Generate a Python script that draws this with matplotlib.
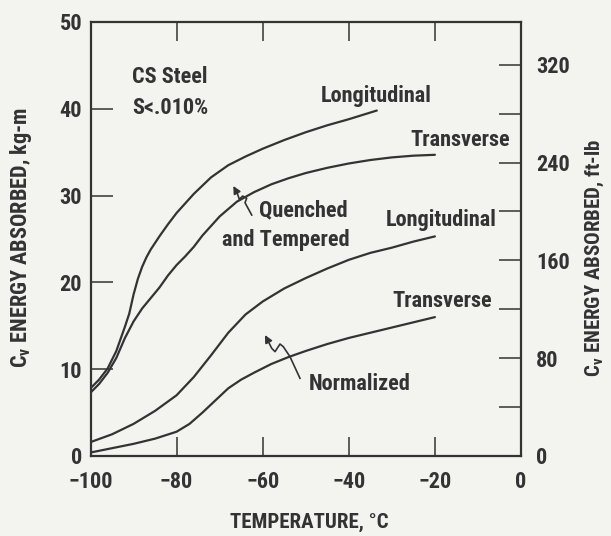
import matplotlib
matplotlib.use("Agg")
import matplotlib.pyplot as plt
from matplotlib.ticker import FixedLocator, NullFormatter

# ---- data: Charpy V-notch energy (kg-m) vs. test temperature (deg C) ----
qt_long_temp = [-100, -98, -96, -94, -92, -91, -90, -89, -88, -87, -86, -84, -82, -80,
                -76, -72, -68, -64, -60, -55, -50, -45, -40, -33.5]
qt_long_energy = [7.8, 8.8, 10.1, 12.1, 14.9, 16.4, 18.6, 20.4, 21.8, 22.9, 23.8, 25.3,
                  26.7, 28.0, 30.2, 32.1, 33.5, 34.5, 35.4, 36.4, 37.3, 38.1, 38.8, 39.8]

qt_trans_temp = [-100, -98, -96, -94, -92, -90, -88, -86, -84, -82, -80, -78, -76, -74,
                 -70, -66, -62, -58, -54, -50, -45, -40, -35, -30, -25, -20]
qt_trans_energy = [7.3, 8.3, 9.6, 11.3, 13.6, 15.5, 17.0, 18.2, 19.4, 20.8, 22.0, 23.0,
                   24.1, 25.4, 27.6, 29.3, 30.4, 31.3, 32.0, 32.6, 33.2, 33.7, 34.1,
                   34.4, 34.6, 34.7]

norm_long_temp = [-100, -95, -90, -85, -80, -76, -72, -68, -64, -60, -55, -50, -45,
                  -40, -35, -30, -25, -20]
norm_long_energy = [1.6, 2.5, 3.7, 5.2, 7.0, 9.1, 11.6, 14.2, 16.3, 17.8, 19.3, 20.5,
                    21.6, 22.6, 23.4, 24.0, 24.7, 25.3]

norm_trans_temp = [-100, -95, -90, -85, -80, -77, -74, -71, -68, -65, -62, -58, -54,
                   -50, -45, -40, -35, -30, -25, -20]
norm_trans_energy = [0.4, 0.9, 1.4, 2.0, 2.8, 3.7, 5.0, 6.4, 7.8, 8.8, 9.6, 10.6, 11.4,
                     12.1, 12.9, 13.6, 14.2, 14.8, 15.4, 16.0]

x_ticks = [-100, -80, -60, -40, -20, 0]
y_ticks_kgm = [0, 10, 20, 30, 40, 50]
y_ticks_ftlb = [0, 80, 160, 240, 320]
y_minor_ftlb = [40, 120, 200, 280]
FTLB_PER_KGM = 7.1

# ---- style ----
BG = "#f3f3ef"
INK = "#333333"
FONT = "Roboto Condensed"
plt.rcParams["font.family"] = [FONT, "DejaVu Sans"]
plt.rcParams["font.weight"] = "bold"
plt.rcParams["mathtext.fontset"] = "custom"
plt.rcParams["mathtext.rm"] = FONT + ":bold"
plt.rcParams["mathtext.it"] = FONT + ":bold"
plt.rcParams["mathtext.bf"] = FONT + ":bold"
plt.rcParams["axes.unicode_minus"] = True

fig = plt.figure(figsize=(6.11, 5.36), dpi=100, facecolor=BG)
ax = fig.add_axes([90.5 / 611, 80 / 536, 430.5 / 611, 434 / 536], facecolor=BG)

line_kw = dict(color=INK, lw=1.6, solid_capstyle="round", solid_joinstyle="round")
ax.plot(qt_long_temp, qt_long_energy, **line_kw)
ax.plot(qt_trans_temp, qt_trans_energy, **line_kw)
ax.plot(norm_long_temp, norm_long_energy, **line_kw)
ax.plot(norm_trans_temp, norm_trans_energy, **line_kw)

ax.set_xlim(-100, 0)
ax.set_ylim(0, 50)

for side in ax.spines:
    ax.spines[side].set_linewidth(1.6)
    ax.spines[side].set_color(INK)

ax.set_xticks(x_ticks)
ax.set_yticks(y_ticks_kgm)
ax.tick_params(axis="x", direction="in", length=14, width=1.1, color=INK,
               labelsize=16, pad=11, top=True, labelcolor=INK)
ax.tick_params(axis="y", direction="in", length=15.5, width=1.1, color=INK,
               labelsize=16, pad=6, labelcolor=INK)

# secondary scale in ft-lb
ax2 = ax.twinx()
ax2.set_ylim(0, 50 * FTLB_PER_KGM)
ax2.set_yticks(y_ticks_ftlb)
ax2.yaxis.set_minor_locator(FixedLocator(y_minor_ftlb))
ax2.yaxis.set_minor_formatter(NullFormatter())
ax2.tick_params(axis="y", which="both", direction="in", length=15.5, width=1.1,
                color=INK, labelsize=16, pad=11, labelcolor=INK)
for side in ax2.spines:
    ax2.spines[side].set_visible(False)

# annotations
txt_kw = dict(fontsize=16, color=INK, fontweight="bold")
ax.text(-90.4, 43.7, "CS Steel", ha="left", va="center", **txt_kw)
ax.text(-90.4, 40.1, "S<.010%", ha="left", va="center", **txt_kw)
ax.text(-33.7, 41.5, "Longitudinal", ha="center", va="center", **txt_kw)
ax.text(-14.2, 36.4, "Transverse", ha="center", va="center", **txt_kw)
ax.text(-40.2, 28.3, "Quenched", ha="right", va="center", **txt_kw)
ax.text(-39.7, 24.9, "and Tempered", ha="right", va="center", **txt_kw)
ax.text(-18.6, 27.2, "Longitudinal", ha="center", va="center", **txt_kw)
ax.text(-18.4, 17.9, "Transverse", ha="center", va="center", **txt_kw)
ax.text(-37.4, 8.3, "Normalized", ha="center", va="center", **txt_kw)

# wavy leader arrows
qt_leader_t = [-62.55, -64.11, -63.72, -64.65, -65.44, -65.90]
qt_leader_e = [27.76, 29.18, 29.69, 29.95, 29.57, 30.27]
norm_leader_t = [-51.34, -53.66, -55.21, -55.98, -57.14, -57.91, -59.07]
norm_leader_e = [8.95, 11.44, 12.59, 12.90, 12.02, 12.41, 13.56]
for lt, le, tip in ((qt_leader_t, qt_leader_e, (-66.83, 31.11)),
                    (norm_leader_t, norm_leader_e, (-59.47, 13.94))):
    ax.plot(lt, le, color=INK, lw=1.2, solid_joinstyle="round")
    ax.annotate("", xy=tip, xytext=(lt[-1], le[-1]),
                arrowprops=dict(arrowstyle="-|>", color=INK, lw=1.2,
                                mutation_scale=11, shrinkA=0, shrinkB=0))

# axis titles
lab_kw = dict(color=INK, fontweight="bold", ha="center", va="center")
fig.text(309 / 611, 1 - 522 / 536, "TEMPERATURE, °C", fontsize=15, **lab_kw)
fig.text(21 / 611, 1 - 238 / 536, r"C$_{\mathrm{v}}$ ENERGY ABSORBED, kg-m",
         rotation=90, fontsize=16, **lab_kw)
fig.text(595 / 611, 1 - 258 / 536, r"C$_{\mathrm{v}}$ ENERGY ABSORBED, ft-lb",
         rotation=90, fontsize=15, **lab_kw)

fig.savefig("out.png", dpi=100, facecolor=BG)
